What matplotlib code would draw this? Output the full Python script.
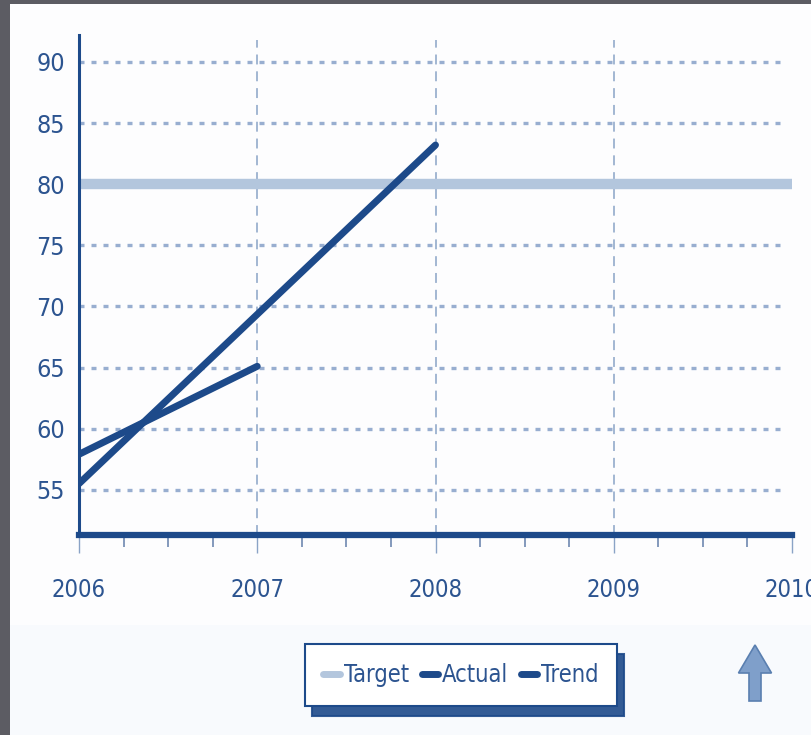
import matplotlib.pyplot as plt
from matplotlib.patches import Rectangle, FancyArrow
from matplotlib.lines import Line2D

plt.rcParams['font.family'] = ['DejaVu Sans']
plt.rcParams['font.stretch'] = 'condensed'

years = [2006, 2007, 2008, 2009, 2010]
target_x = [2006, 2010]
target_y = [80, 80]
actual_x = [2006, 2007]
actual_y = [57.9, 65.1]
trend_x = [2006, 2008]
trend_y = [55.5, 83.2]
yticks = [55, 60, 65, 70, 75, 80, 85, 90]

dark = '#1d4a8a'
label_col = '#2c5490'
light = '#b3c6dd'

fig = plt.figure(figsize=(8.11, 7.35), dpi=100)
fig.patch.set_facecolor('#fdfdfe')

# pale band under the plot and dark frame edges
fig.patches.append(Rectangle((0, 0), 1, 0.15, transform=fig.transFigure,
                             facecolor='#f8fafd', edgecolor='none', zorder=0))
fig.patches.append(Rectangle((0, 0), 10 / 811, 1, transform=fig.transFigure,
                             facecolor='#5c5c63', edgecolor='none', zorder=5))
fig.patches.append(Rectangle((0, 1 - 4 / 735), 1, 4 / 735, transform=fig.transFigure,
                             facecolor='#5c5c63', edgecolor='none', zorder=5))

ax = fig.add_axes([79 / 811, (735 - 535) / 735, (792 - 79) / 811, 500 / 735])
ax.set_facecolor('none')
ax.set_xlim(2006, 2010)
ax.set_ylim(51.3, 92.2)

for v in yticks:
    ax.plot([2006, 2009.96], [v, v], color='#98aed0', lw=2.4,
            linestyle=(0, (1.5, 2.1)), zorder=1)
for yr in years[1:-1]:
    ax.plot([yr, yr], [51.3, 91.8], color='#8aa3c6', lw=1.1,
            linestyle=(0, (6.5, 4.5)), zorder=1)

ax.plot(target_x, target_y, color=light, lw=7.5, solid_capstyle='butt', zorder=2)
ax.plot(trend_x, trend_y, color=dark, lw=5, solid_capstyle='round', zorder=3)
ax.plot(actual_x, actual_y, color=dark, lw=5, solid_capstyle='round', zorder=4)

for s in ['top', 'right']:
    ax.spines[s].set_visible(False)
ax.spines['left'].set_color(dark)
ax.spines['left'].set_linewidth(2.2)
ax.spines['bottom'].set_color(dark)
ax.spines['bottom'].set_linewidth(4.5)

ax.set_yticks(yticks)
ax.set_xticks(years)
ax.set_xticks([2006 + q * 0.25 for q in range(17)], minor=True)
ax.tick_params(axis='y', length=0, pad=10, labelsize=18, labelcolor=label_col)
ax.tick_params(axis='x', which='major', length=13, width=1, color='#8aa3c6',
               pad=18, labelsize=17, labelcolor=label_col)
ax.tick_params(axis='x', which='minor', length=8.5, width=1.2, color='#6f88b0')

handles = [Line2D([], [], color=light, lw=5, solid_capstyle='round'),
           Line2D([], [], color=dark, lw=5, solid_capstyle='round'),
           Line2D([], [], color=dark, lw=5, solid_capstyle='round')]
leg = fig.legend(handles, ['Target', 'Actual', 'Trend'], ncol=3,
                 loc='center', bbox_to_anchor=(461 / 811, 1 - 675 / 735),
                 fontsize=17, labelcolor=label_col, handlelength=0.7,
                 handletextpad=0.15, columnspacing=0.55, borderpad=0.8,
                 fancybox=False, framealpha=1,
                 shadow={'ox': 5, 'oy': -7, 'facecolor': dark,
                         'edgecolor': dark, 'alpha': 0.9})
leg.get_frame().set_edgecolor(dark)
leg.get_frame().set_linewidth(1.5)

arrow = FancyArrow(7.55, 0.34, 0, 0.56, width=0.12, head_width=0.33,
                   head_length=0.28, length_includes_head=True,
                   transform=fig.dpi_scale_trans, facecolor='#7f9fca',
                   edgecolor='#5a7fb0', linewidth=1.2)
fig.patches.append(arrow)

fig.savefig('out.png', dpi=100)
